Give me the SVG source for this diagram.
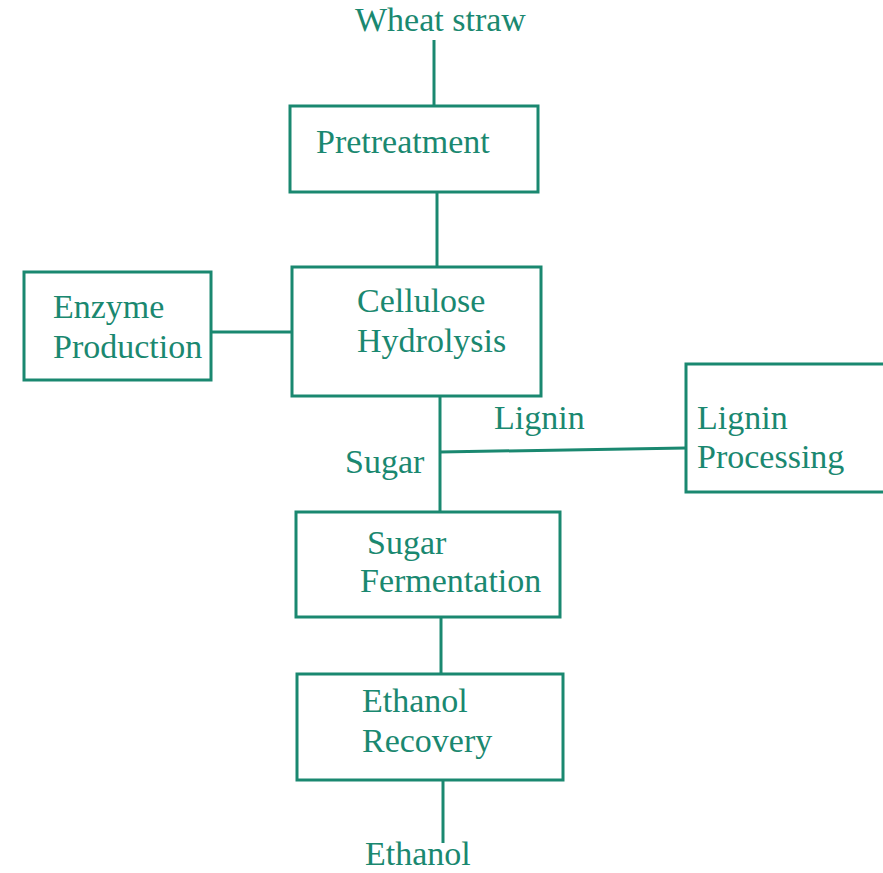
<svg xmlns="http://www.w3.org/2000/svg" width="883" height="873" viewBox="0 0 883 873">
<style>
.box{fill:none;stroke:#1a8870;stroke-width:3}
.ln{stroke:#1a8870;stroke-width:3;fill:none}
text{font-family:"Liberation Serif","Times New Roman",serif;font-size:34px;fill:#1a8870}
</style>
<rect width="883" height="873" fill="#ffffff"/>
<g id="connectors">
<line class="ln" x1="434" y1="40" x2="434" y2="106"/>
<line class="ln" x1="437" y1="192" x2="437" y2="267"/>
<line class="ln" x1="211" y1="332" x2="292" y2="332"/>
<line class="ln" x1="440" y1="396" x2="440" y2="512"/>
<line class="ln" x1="440" y1="452" x2="686" y2="448"/>
<line class="ln" x1="441" y1="617" x2="441" y2="674"/>
<line class="ln" x1="443" y1="780" x2="443" y2="843"/>
<text x="494" y="429">Lignin</text>
<text x="345" y="473">Sugar</text>
</g>
<g id="wheat"><text x="355" y="31">Wheat straw</text></g>
<g id="pretreatment"><rect class="box" x="290" y="106" width="248" height="86"/><text x="316" y="153">Pretreatment</text></g>
<g id="enzyme"><rect class="box" x="24" y="272" width="187" height="108"/><text x="53" y="318">Enzyme</text><text x="53" y="358">Production</text></g>
<g id="hydrolysis"><rect class="box" x="292" y="267" width="249" height="129"/><text x="357" y="312">Cellulose</text><text x="357" y="352">Hydrolysis</text></g>
<g id="lignin"><rect class="box" x="686" y="364" width="200" height="128"/><text x="697" y="429">Lignin</text><text x="697" y="468">Processing</text></g>
<g id="fermentation"><rect class="box" x="296" y="512" width="264" height="105"/><text x="367" y="554">Sugar</text><text x="360" y="592">Fermentation</text></g>
<g id="recovery"><rect class="box" x="297" y="674" width="266" height="106"/><text x="362" y="712">Ethanol</text><text x="362" y="752">Recovery</text></g>
<g id="ethanol"><text x="365" y="865">Ethanol</text></g>
</svg>
